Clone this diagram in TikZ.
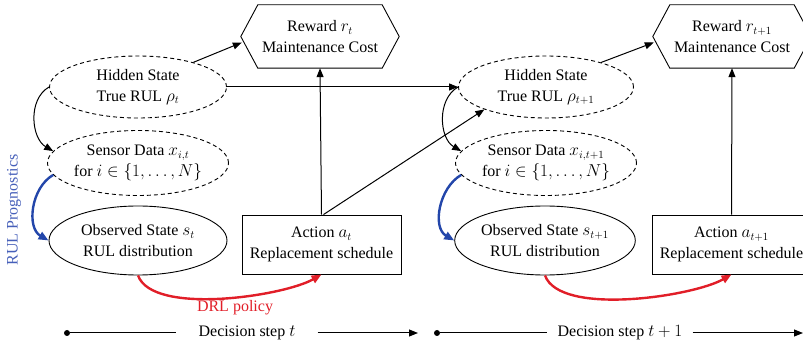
\documentclass[tikz,border=0pt]{standalone}
\usepackage{fontspec}
\setmainfont{Liberation Serif}
\usetikzlibrary{shapes.geometric,arrows.meta}
\definecolor{progblue}{RGB}{35,70,170}
\definecolor{progtext}{RGB}{70,95,185}
\definecolor{polred}{RGB}{225,30,40}
\begin{document}
\begin{tikzpicture}[x=1pt,y=1pt,
  font=\fontsize{16}{21}\selectfont,
  arr/.style={-{Triangle[length=9pt,width=7pt]}, line width=1pt},
  hidstate/.style={ellipse, draw, dash pattern=on 4pt off 3pt, line width=0.9pt, minimum width=177pt, minimum height=62pt, align=center, inner sep=0pt},
  sensstate/.style={hidstate, minimum height=65pt},
  obsstate/.style={ellipse, draw, line width=0.9pt, minimum width=178pt, minimum height=69pt, align=center, inner sep=0pt},
  actbox/.style={rectangle, draw, line width=0.9pt, minimum width=159pt, minimum height=59pt, align=center, inner sep=0pt},
  rewbox/.style={rectangle, minimum width=158pt, minimum height=63pt, align=center, inner sep=0pt},
  hexline/.style={line width=0.9pt},
  bluearr/.style={-{Triangle[length=10pt,width=8pt]}, line width=2.4pt, draw=progblue},
  redarr/.style={-{Triangle[length=10pt,width=8pt]}, line width=2.4pt, draw=polred},
  bullet/.style={circle, fill, inner sep=0pt, minimum size=6pt}
]
\useasboundingbox (0,0) rectangle (803,348);

% ---- step t ----
\node[rewbox] (rew) at (320,311.5) {Reward $r_t$\\Maintenance Cost};
\draw[hexline] (rew.west) -- ([xshift=17pt]rew.north west) -- ([xshift=-17pt]rew.north east) -- (rew.east) -- ([xshift=-17pt]rew.south east) -- ([xshift=17pt]rew.south west) -- cycle;
\node[hidstate] (hid) at (138,261) {Hidden State\\True RUL $\rho_t$};
\node[sensstate] (sen) at (138,185) {Sensor Data $x_{i,t}$\\for $i\in\{1,\ldots,N\}$};
\node[obsstate] (obs) at (138,107.5) {Observed State $s_t$\\RUL distribution};
\node[actbox] (act) at (321.5,103.5) {Action $a_t$\\Replacement schedule};

% ---- step t+1 ----
\node[rewbox] (rew1) at (732,311.5) {Reward $r_{t+1}$\\Maintenance Cost};
\draw[hexline] (rew1.west) -- ([xshift=17pt]rew1.north west) -- ([xshift=-17pt]rew1.north east) -- (rew1.east) -- ([xshift=-17pt]rew1.south east) -- ([xshift=17pt]rew1.south west) -- cycle;
\node[hidstate, minimum width=175pt] (hid1) at (546,261) {Hidden State\\True RUL $\rho_{t+1}$};
\node[sensstate, minimum width=175pt] (sen1) at (546,185) {Sensor Data $x_{i,t+1}$\\for $i\in\{1,\ldots,N\}$};
\node[obsstate, minimum width=171pt] (obs1) at (545,107.5) {Observed State $s_{t+1}$\\RUL distribution};
\node[actbox] (act1) at (731.5,103.5) {Action $a_{t+1}$\\Replacement schedule};

% ---- connectors step t ----
\draw[arr] (hid.24) -- ([xshift=1pt,yshift=-6pt]rew.west);
\draw[arr] (act.north) -- (rew.south);
\draw[arr] (hid.east) -- (hid1.west);
\draw[arr] ([xshift=2pt]act.north) -- (hid1.200);
\draw[arr] (hid.west) to[out=210,in=150] (sen.172);
\draw[bluearr] (sen.188) to[out=210,in=150] (obs.west);
\draw[redarr] (obs.south) to[out=-70,in=-150,looseness=0.6] (act.south);

% ---- connectors step t+1 ----
\draw[arr] (hid1.24) -- ([xshift=1pt,yshift=-6pt]rew1.west);
\draw[arr] (act1.north) -- (rew1.south);
\draw[arr] (hid1.west) to[out=210,in=150] (sen1.172);
\draw[bluearr] (sen1.188) to[out=210,in=150] (obs1.west);
\draw[redarr] (obs1.south) to[out=-70,in=-150,looseness=0.6] (act1.south);

% ---- labels ----
\node[text=polred] (drl) at (235,40) {DRL policy};
\node[text=progtext, rotate=90] (rulp) at (14,138) {RUL Prognostics};

% ---- decision steps ----
\node[bullet] (d0) at (67,15) {};
\node[inner xsep=22pt, inner ysep=0pt] (dt) at (247,15) {Decision step $t$};
\coordinate (d1) at (418,15);
\draw[line width=1pt] (d0) -- (dt.west);
\draw[arr] (dt.east) -- (d1);
\node[bullet] (e0) at (437,15) {};
\node[inner xsep=10pt, inner ysep=0pt] (dt1) at (620,15) {Decision step $t+1$};
\coordinate (e1) at (803,15);
\draw[line width=1pt] (e0) -- (dt1.west);
\draw[arr] (dt1.east) -- (e1);
\end{tikzpicture}
\end{document}
